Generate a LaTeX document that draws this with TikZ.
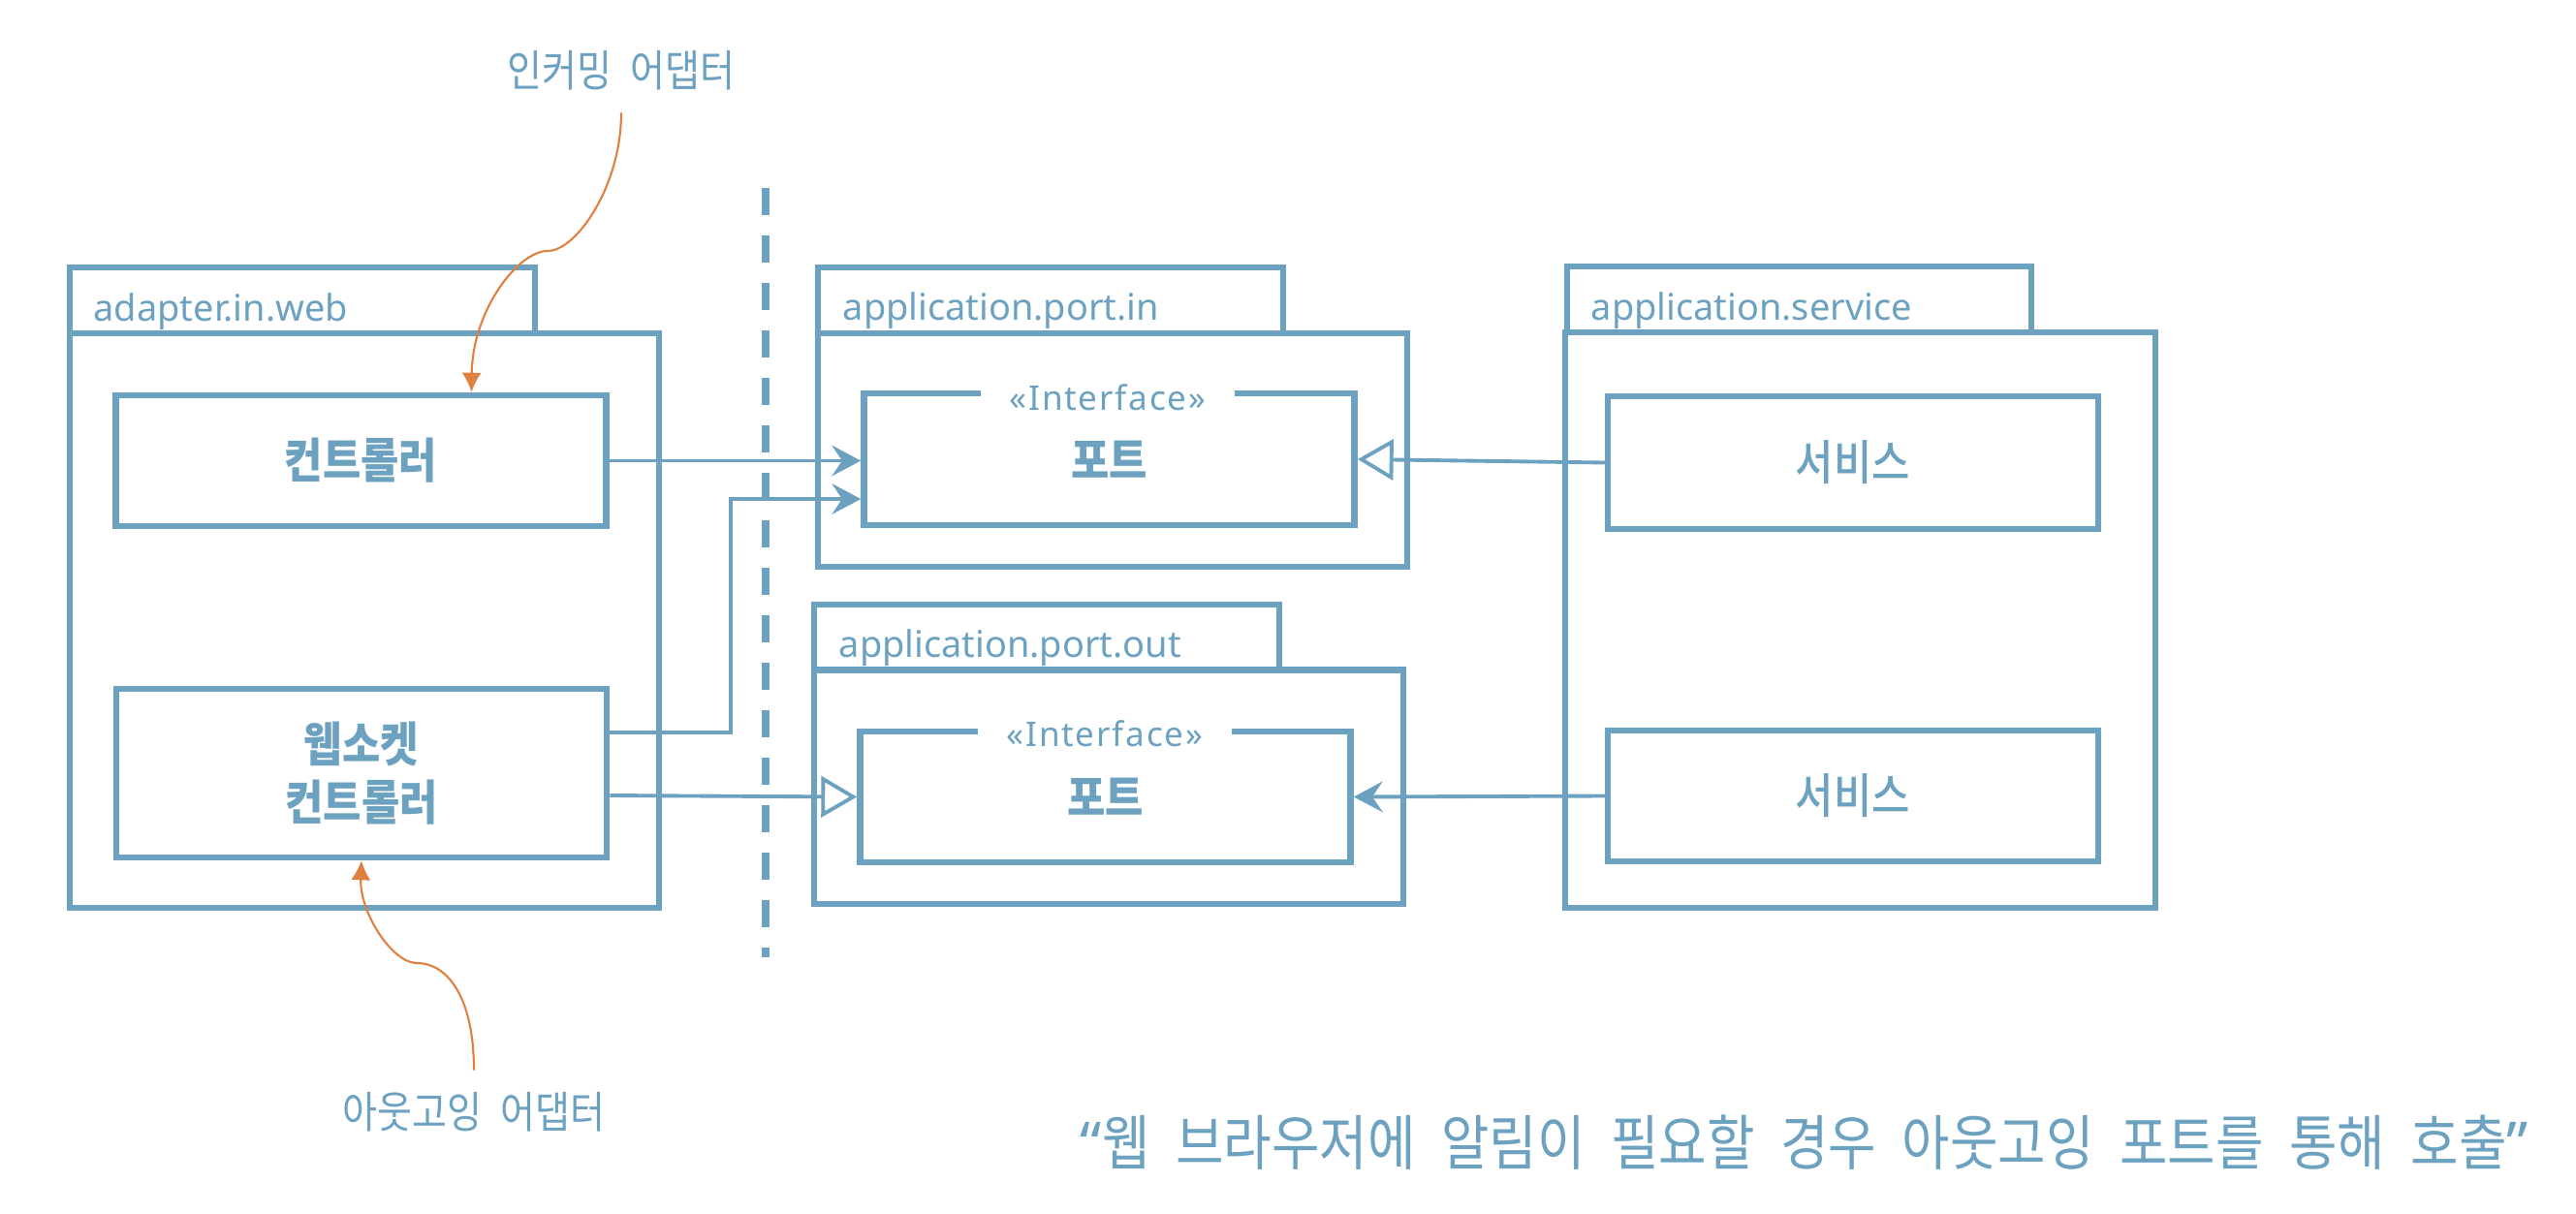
\documentclass[tikz,border=0pt]{standalone}
\usepackage{fontspec}
\setmainfont{Noto Sans CJK KR}[FakeStretch=0.87, WordSpace=2.2]
\newfontfamily\medfont{Noto Sans CJK KR Medium}[FakeStretch=0.87, WordSpace=2.2]
\newfontfamily\latinfont{Noto Sans}
\newfontfamily\stereofont{Noto Sans}[LetterSpace=5]
\usetikzlibrary{arrows.meta}
\definecolor{pkgblue}{RGB}{108,161,192}
\definecolor{noteorange}{RGB}{224,128,64}
\begin{document}
\begin{tikzpicture}[every node/.style={text=pkgblue},
	frame/.style={draw=pkgblue, line width=1.85pt, inner sep=0pt},
	classbox/.style={frame, minimum width=5.06cm, minimum height=1.36cm, align=center, font=\fontsize{14}{17}\selectfont},
	pkglabel/.style={anchor=base west, inner sep=0pt, font=\latinfont\fontsize{10.8}{12}\selectfont},
	stereo/.style={anchor=base, fill=white, inner xsep=3mm, inner ysep=1.2mm, font=\stereofont\fontsize{10}{11}\selectfont},
	notelabel/.style={inner sep=0pt, outer sep=2.3mm, font=\fontsize{12.8}{14}\selectfont},
	conn/.style={draw=pkgblue, line width=1.1pt},
	uses/.style={-{Stealth[length=8.5pt, width=9pt, inset=3pt]}},
	realizes/.style={-{Triangle[open, length=10.5pt, width=12pt]}},
	note/.style={draw=noteorange, line width=0.6pt, -{Latex[length=5.7pt, width=5.7pt]}}]
\useasboundingbox (0,0) rectangle (26.58,-12.52);

\node[frame, minimum width=4.80cm, minimum height=0.68cm] (webtab) at (3.12,-3.10) {};
\node[frame, minimum width=6.08cm, minimum height=5.93cm] (webpkg) at (3.76,-6.405) {};
\node[pkglabel] (weblabel) at (0.96,-3.31) {adapter.in.web};

\node[frame, minimum width=4.80cm, minimum height=0.68cm] (intab) at (10.84,-3.10) {};
\node[frame, minimum width=6.08cm, minimum height=2.41cm] (inpkg) at (11.48,-4.645) {};
\node[pkglabel] (inlabel) at (8.69,-3.30) {application.port.in};

\node[frame, minimum width=4.80cm, minimum height=0.675cm] (outtab) at (10.80,-6.5775) {};
\node[frame, minimum width=6.08cm, minimum height=2.415cm] (outpkg) at (11.44,-8.1225) {};
\node[pkglabel] (outlabel) at (8.65,-6.78) {application.port.out};

\node[frame, minimum width=4.79cm, minimum height=0.68cm] (svctab) at (18.565,-3.09) {};
\node[frame, minimum width=6.09cm, minimum height=5.94cm] (svcpkg) at (19.195,-6.40) {};
\node[pkglabel] (svclabel) at (16.41,-3.30) {application.service};

\node[classbox, font=\bfseries\fontsize{14}{17}\selectfont, minimum height=1.35cm] (ctrl) at (3.725,-4.755) {컨트롤러};
\node[classbox, font=\bfseries\fontsize{14}{17}\selectfont, minimum height=1.74cm] (ws) at (3.73,-7.98) {웹소켓\\컨트롤러};

\node[classbox, font=\bfseries\fontsize{14}{17}\selectfont] (portin) at (11.445,-4.74) {포트};
\node[stereo] (instereo) at (11.43,-4.23) {«Interface»};
\node[classbox, font=\bfseries\fontsize{14}{17}\selectfont, minimum height=1.35cm] (portout) at (11.405,-8.225) {포트};
\node[stereo] (outstereo) at (11.40,-7.70) {«Interface»};

\node[classbox, font=\medfont\fontsize{14}{17}\selectfont, minimum height=1.37cm] (svc1) at (19.12,-4.775) {서비스};
\node[classbox, font=\medfont\fontsize{14}{17}\selectfont, minimum height=1.35cm] (svc2) at (19.12,-8.215) {서비스};

\draw[pkgblue, line width=2.3pt, dash pattern=on 0.28cm off 0.21cm] (7.90,-1.94) -- (7.90,-9.88);

\draw[conn, uses] (ctrl.east) -- (ctrl.east -| portin.west);
\draw[conn, uses] ([yshift=4.2mm]ws.east) -| ([xshift=-13.4mm, yshift=-4.1mm]portin.west) -- ([yshift=-4.1mm]portin.west);
\draw[conn, realizes] ([yshift=-2.3mm]ws.east) -- (portout.west);
\draw[conn, realizes] (svc1.west) -- (portin.east);
\draw[conn, uses] (svc2.west) -- (portout.east);

\node[notelabel] (incoming) at (6.41,-0.73) {인커밍 어댑터};
\node[notelabel] (outgoing) at (4.89,-11.48) {아웃고잉 어댑터};
\coordinate (inbend) at (5.65,-2.59);
\coordinate (outbend) at (4.30,-9.94);

\draw[note] (incoming.south) .. controls +(0,-0.75) and +(0.30,0) .. (inbend) .. controls +(-0.30,0) and +(0.01,0.85) .. ([xshift=11.4mm]ctrl.north);
\draw[note] (outgoing.north) .. controls +(0,0.75) and +(0.32,0) .. (outbend) .. controls +(-0.25,0) and +(-0.02,-0.54) .. (ws.south);

\node[font=\fontsize{17.6}{20}\selectfont] (caption) at (18.62,-11.79) {{\latinfont “}웹 브라우저에 알림이 필요할 경우 아웃고잉 포트를 통해 호출{\latinfont ”}};
\end{tikzpicture}
\end{document}
